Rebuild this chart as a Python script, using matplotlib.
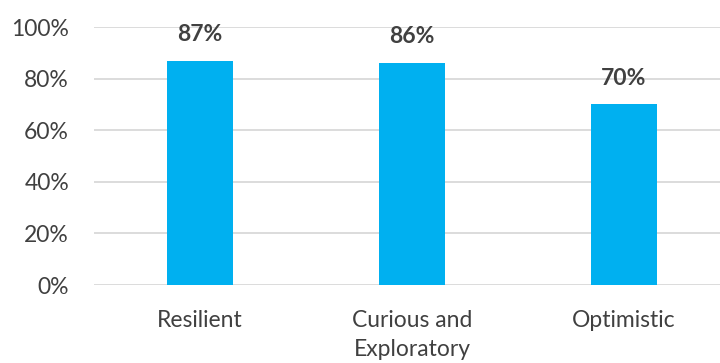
import matplotlib.pyplot as plt
import numpy as np

plt.rcParams['font.family'] = ['Lato', 'DejaVu Sans']

categories = ['Resilient', 'Curious and\nExploratory', 'Optimistic']
values = [87, 86, 70]
yticks = [0, 20, 40, 60, 80, 100]

bar_color = '#00B0F0'
grid_color = '#D9D9D9'
text_color = '#404040'

fig = plt.figure(figsize=(7.2, 3.63), dpi=100)
ax = fig.add_axes([94 / 720, 78 / 363, 636 / 720, 258 / 363])

x = np.arange(len(categories))
bars = ax.bar(x, values, width=0.31, color=bar_color, zorder=3)

ax.set_xlim(-0.5, len(categories) - 0.5)
ax.set_ylim(0, 100)
ax.set_yticks(yticks)
ax.set_yticklabels([f'{v}%' for v in yticks])
ax.set_xticks(x)
ax.set_xticklabels(categories, linespacing=1.45)

ax.yaxis.grid(True, color=grid_color, linewidth=1.3, zorder=0)
for s in ax.spines.values():
    s.set_visible(False)
ax.tick_params(axis='both', length=0, labelsize=16.5, colors=text_color)
ax.tick_params(axis='y', pad=18)
ax.tick_params(axis='x', pad=18)

for b, v in zip(bars, values):
    ax.annotate(f'{v}%', (b.get_x() + b.get_width() / 2, v),
                xytext=(0, 19), textcoords='offset points',
                ha='center', va='center', fontsize=16.5, fontweight='bold',
                color=text_color)

fig.savefig('out.png', dpi=100)
